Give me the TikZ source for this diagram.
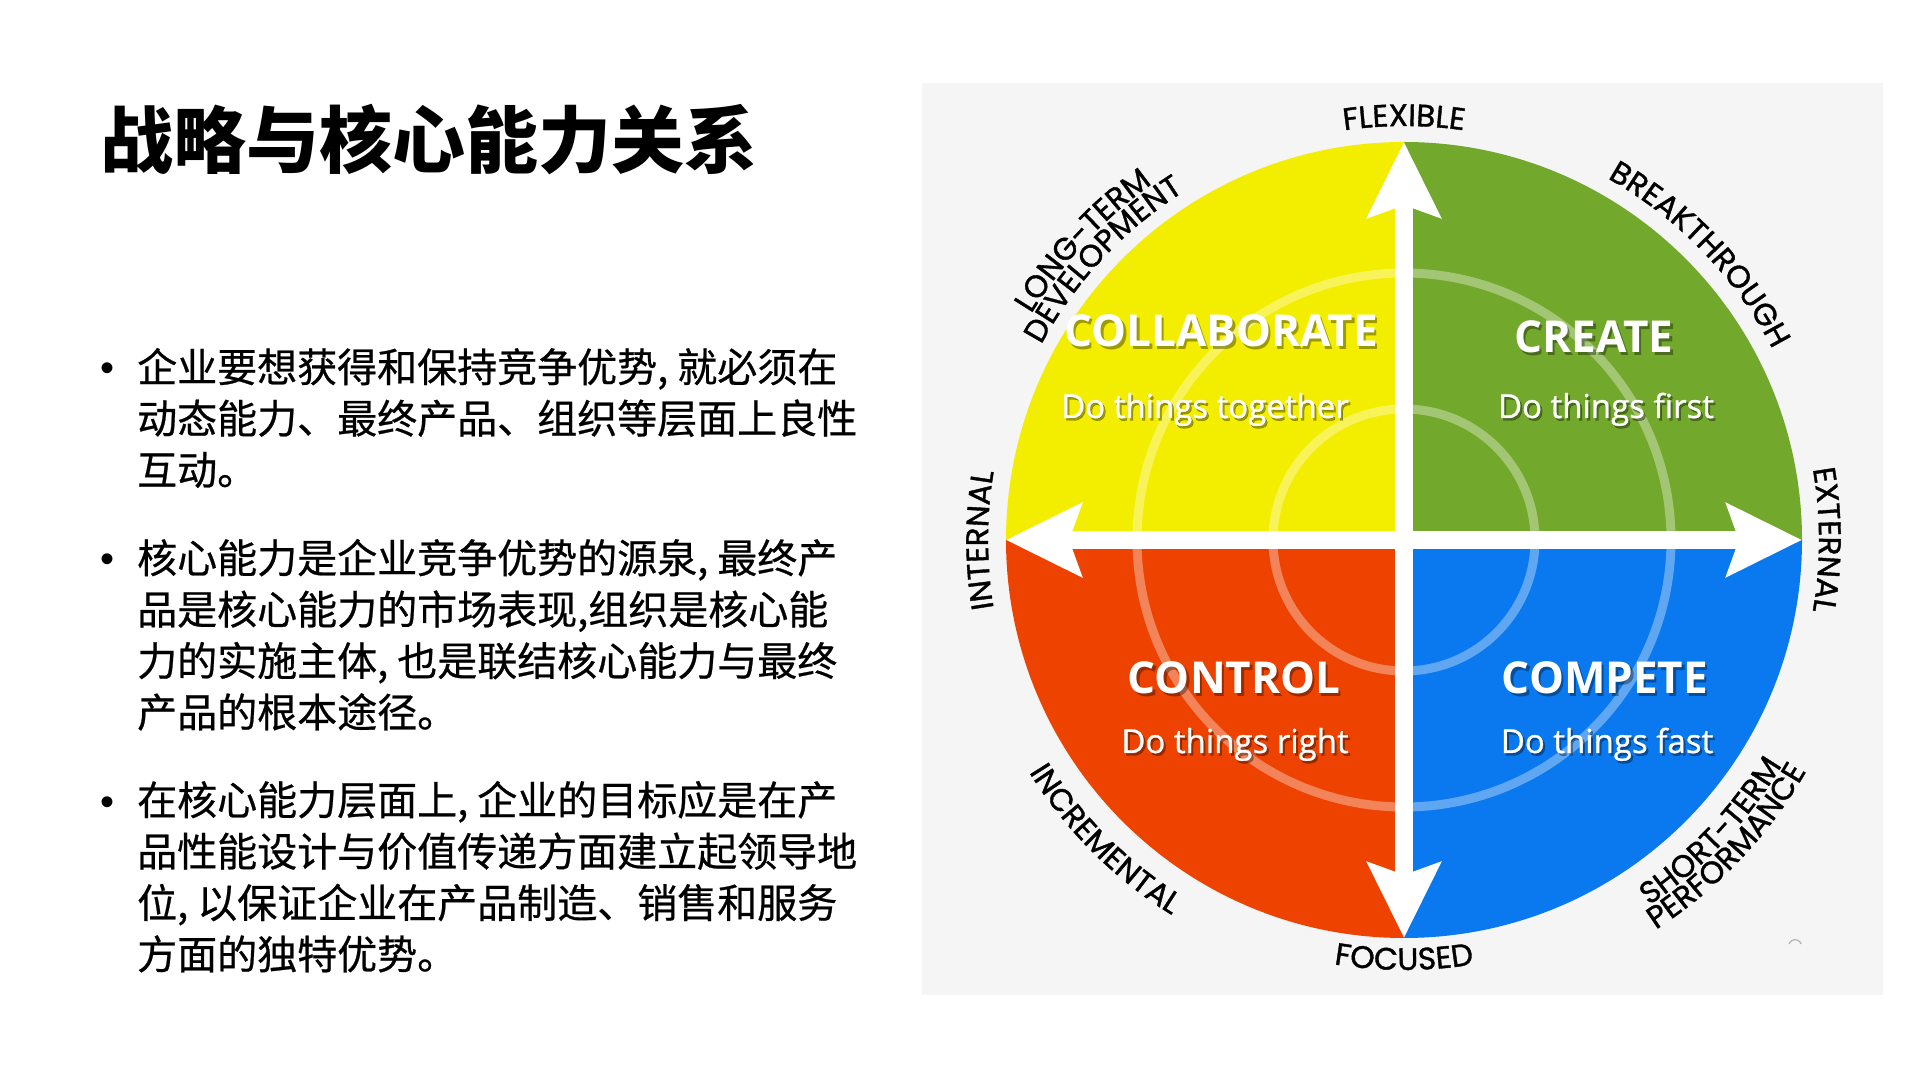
\documentclass[tikz,border=0pt]{standalone}
\usepackage{fontspec}
\usetikzlibrary{arrows.meta,decorations.text}
\newfontfamily\cjk{Noto Sans CJK SC}
\newfontfamily\cjkbody{Noto Sans CJK SC}[FakeBold=0.6]
\newfontfamily\dotfont{Liberation Sans}
\newfontfamily\lblfont{Poppins}[FakeBold=1.2]
\newfontfamily\qfont{Open Sans}
\newfontfamily\qsubfont{Open Sans}[FakeBold=0.9]
\newcommand\lblfmt{\lblfont\fontsize{31}{32}\selectfont}
\definecolor{qyellow}{HTML}{F3EE00}
\definecolor{qgreen}{HTML}{72A82B}
\definecolor{qred}{HTML}{EE4200}
\definecolor{qblue}{HTML}{0A78EE}
\definecolor{panelgray}{HTML}{F5F5F5}
\begin{document}
\begin{tikzpicture}[x=1pt,y=1pt,
  bodytext/.style={anchor=base west, inner sep=0pt, font=\cjkbody\fontsize{40}{51}\selectfont, text=black},
  bulletdot/.style={anchor=base, inner sep=0pt, font=\dotfont\fontsize{40}{51}\selectfont, text=black},
  qtitle/.style={anchor=base, inner sep=0pt, text=white, font=\qfont\bfseries\fontsize{44}{44}\selectfont},
  qsub/.style={anchor=base, inner sep=0pt, text=white, font=\qsubfont\fontsize{33}{33}\selectfont},
  qshadow/.style={text=black, opacity=0.35},
  axis/.style={white, line width=18pt, arrows={Stealth[length=75pt,width=72pt,inset=12pt]-Stealth[length=75pt,width=72pt,inset=12pt]}},
  ring/.style={white, opacity=0.35, line width=9pt},
  arclabel/.style={decorate, decoration={text along path, text align=center, text={#1}}}
]
\useasboundingbox (0,0) rectangle (1920,1080);
\fill[white] (0,0) rectangle (1920,1080);

% title
\node[anchor=base west, inner sep=0pt, font=\cjk\bfseries\fontsize{73}{73}\selectfont] (title) at (100,912) {战略与核心能力关系};

% bullets
\node[bulletdot] (d1) at (108,698) {•};
\node[bodytext] (b1a) at (137,698) {企业要想获得和保持竞争优势, 就必须在};
\node[bodytext] (b1b) at (137,646.6) {动态能力、最终产品、组织等层面上良性};
\node[bodytext] (b1c) at (137,595.2) {互动。};

\node[bulletdot] (d2) at (108,507) {•};
\node[bodytext] (b2a) at (137,507) {核心能力是企业竞争优势的源泉, 最终产};
\node[bodytext] (b2b) at (137,455.6) {品是核心能力的市场表现,组织是核心能};
\node[bodytext] (b2c) at (137,404.2) {力的实施主体, 也是联结核心能力与最终};
\node[bodytext] (b2d) at (137,352.8) {产品的根本途径。};

\node[bulletdot] (d3) at (108,265) {•};
\node[bodytext] (b3a) at (137,265) {在核心能力层面上, 企业的目标应是在产};
\node[bodytext] (b3b) at (137,213.6) {品性能设计与价值传递方面建立起领导地};
\node[bodytext] (b3c) at (137,162.2) {位, 以保证企业在产品制造、销售和服务};
\node[bodytext] (b3d) at (137,110.8) {方面的独特优势。};

% panel
\fill[panelgray] (922,85) rectangle (1883,997);

\coordinate (C) at (1404,540);
\begin{scope}[shift={(C)}]
  \fill[qgreen]  (0,0) -- (0:398) arc[start angle=0, end angle=90, radius=398] -- cycle;
  \fill[qyellow] (0,0) -- (90:398) arc[start angle=90, end angle=180, radius=398] -- cycle;
  \fill[qred]    (0,0) -- (180:398) arc[start angle=180, end angle=270, radius=398] -- cycle;
  \fill[qblue]   (0,0) -- (270:398) arc[start angle=270, end angle=360, radius=398] -- cycle;
  \draw[ring] (0,0) circle[radius=267];
  \draw[ring] (0,0) circle[radius=131];
\end{scope}

\coordinate (N) at (1404,938);
\coordinate (S) at (1404,142);
\coordinate (W) at (1006,540);
\coordinate (E) at (1802,540);
\draw[axis] (S) -- (N);
\draw[axis] (E) -- (W);

% quadrant labels (shadow then text)
\node[qtitle, qshadow] (s1) at (1223.5,730) {COLLABORATE};
\node[qtitle] (t1) at (1221,733) {COLLABORATE};
\node[qsub, qshadow] (s1b) at (1207,659.5) {Do things together};
\node[qsub] (t1b) at (1205,662) {Do things together};

\node[qtitle, qshadow] (s2) at (1596.5,724) {CREATE};
\node[qtitle] (t2) at (1594,727) {CREATE};
\node[qsub, qshadow] (s2b) at (1608,659.5) {Do things first};
\node[qsub] (t2b) at (1606,662) {Do things first};

\node[qtitle, qshadow] (s3) at (1236.5,383) {CONTROL};
\node[qtitle] (t3) at (1234,386) {CONTROL};
\node[qsub, qshadow] (s3b) at (1237,324.5) {Do things right};
\node[qsub] (t3b) at (1235,327) {Do things right};

\node[qtitle, qshadow] (s4) at (1607.5,383) {COMPETE};
\node[qtitle] (t4) at (1605,386) {COMPETE};
\node[qsub, qshadow] (s4b) at (1609,324.5) {Do things fast};
\node[qsub] (t4b) at (1607,327) {Do things fast};

% outer labels along the circle
\begin{scope}[shift={(C)}]
  \path[arclabel={|\lblfmt|FLEXIBLE}] (120:414) arc[start angle=120, end angle=60, radius=414];
  \path[arclabel={|\lblfmt|BREAKTHROUGH}] (76:415) arc[start angle=76, end angle=12, radius=415];
  \path[arclabel={|\lblfmt|EXTERNAL}] (35:415) arc[start angle=35, end angle=-35, radius=415];
  \path[arclabel={|\lblfmt|INTERNAL}] (215:416) arc[start angle=215, end angle=145, radius=416];
  \path[arclabel={|\lblfmt|LONG-TERM}] (170:436) arc[start angle=170, end angle=104, radius=436];
  \path[arclabel={|\lblfmt|DEVELOPMENT}] (172:412) arc[start angle=172, end angle=102, radius=412];
  \path[arclabel={|\lblfmt|INCREMENTAL}] (192:441) arc[start angle=192, end angle=258, radius=441];
  \path[arclabel={|\lblfmt|FOCUSED}] (240:430) arc[start angle=240, end angle=300, radius=430];
  \path[arclabel={|\lblfmt|SHORT-TERM}] (-76:440) arc[start angle=-76, end angle=-11, radius=440];
  \path[arclabel={|\lblfmt|PERFORMANCE}] (-76:464) arc[start angle=-76, end angle=-11, radius=464];
\end{scope}

% small grey mark
\draw[gray!60, line width=1.2pt] (1789,136) arc[start angle=160, end angle=20, radius=6.5];
\end{tikzpicture}
\end{document}
